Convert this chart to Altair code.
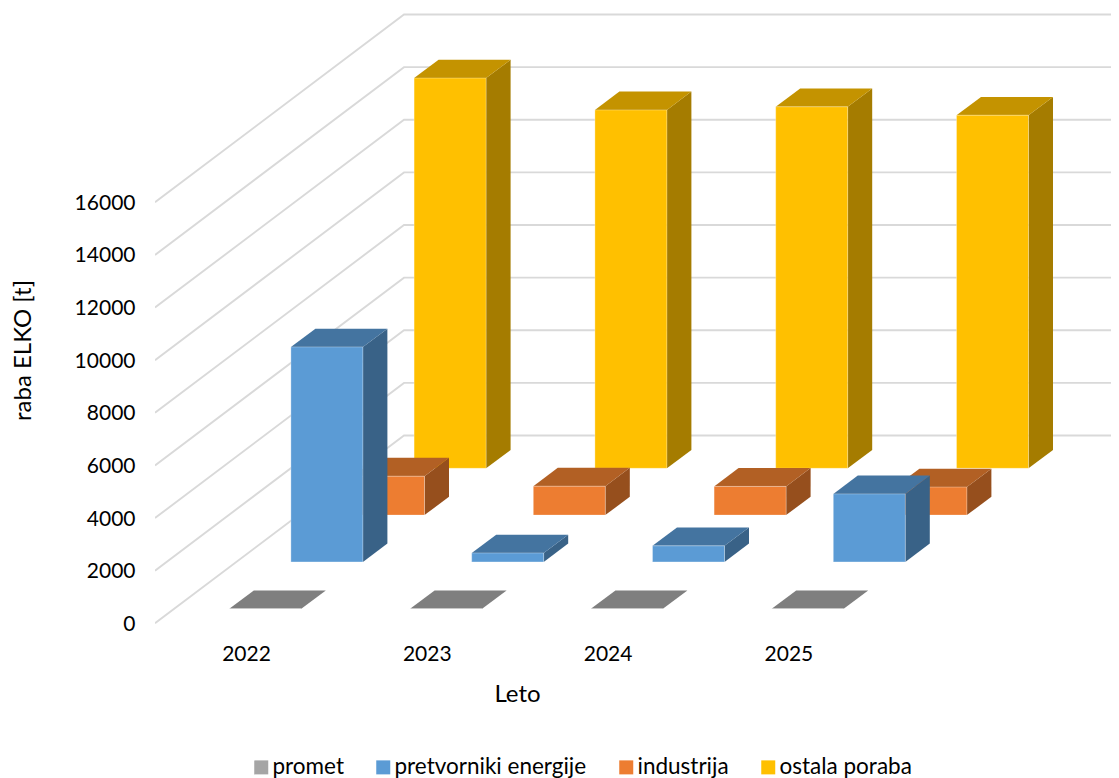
import altair as alt
import pandas as pd

years = [2022, 2023, 2024, 2025]
series_names = ["promet", "pretvorniki energije", "industrija", "ostala poraba"]
promet = [0, 0, 0, 0]
pretvorniki = [8170, 340, 610, 2585]
industrija = [1480, 1100, 1090, 1065]
ostala = [14830, 13620, 13740, 13420]
y_ticks = [0, 2000, 4000, 6000, 8000, 10000, 12000, 14000, 16000]
grid_ticks = y_ticks
front_colors = ["#A5A5A5", "#5B9BD5", "#ED7D31", "#FFC000"]
top_colors = ["#7F7F7F", "#4474A0", "#B26024", "#C49300"]
side_colors = ["#7F7F7F", "#396287", "#964F1D", "#A57C00"]
all_values = [promet, pretvorniki, industrija, ostala]

# oblique projection, expressed in scale units
YEAR_PX = 180.8
VAL_PX = 421 / 16000
BAR_W = 72 / YEAR_PX
DEPTH_X = 24.5 / YEAR_PX
DEPTH_Y = 18.3 / VAL_PX
ROW_X = 61.6 / YEAR_PX
ROW_Y = 46.8 / VAL_PX
FIRST_X = (229.3 - 247) / YEAR_PX
FIRST_Y = 14.6 / VAL_PX
WALL_X = 249 / YEAR_PX
WALL_Y = 187.8 / VAL_PX
X0 = 2022 - (247 - 155) / YEAR_PX
X1 = 2022 + (1111 - 247) / YEAR_PX
Y_BOTTOM = -(640 - 623.3) / VAL_PX
Y_TOP = (623.3 - 10) / VAL_PX


def faces(s, vals):
    front, side, top = [], [], []
    for yr, v in zip(years, vals):
        left = yr + FIRST_X + s * ROW_X
        right = left + BAR_W
        base = FIRST_Y + s * ROW_Y
        front.append(dict(series=series_names[s], x=left, x2=right, y=base, y2=base + v))
        side += [
            dict(year=yr, x=right, y=base, y2=base + v),
            dict(year=yr, x=right + DEPTH_X, y=base + DEPTH_Y, y2=base + v + DEPTH_Y),
        ]
        top += [
            dict(year=yr, y=base + v, x=left, x2=right),
            dict(year=yr, y=base + v + DEPTH_Y, x=left + DEPTH_X, x2=right + DEPTH_X),
        ]
    return pd.DataFrame(front), pd.DataFrame(side), pd.DataFrame(top)


x_scale = alt.Scale(domain=[X0, X1], nice=False, zero=False)
y_scale = alt.Scale(domain=[Y_BOTTOM, Y_TOP], nice=False, zero=False)
x_axis = alt.Axis(
    values=years, format="d", grid=False, domain=False, ticks=False,
    labelPadding=3, title="Leto", titleX=362, titleY=54, labelOffset=-1,
    titleBaseline="middle", titleFontWeight="normal", labelFlush=False,
    labelFontSize=21, titleFontSize=24,
)
y_axis = alt.Axis(
    values=y_ticks, format="d", grid=False, domain=False, ticks=False,
    labelPadding=20, title="raba ELKO [t]", titleX=-132, titleY=340, labelOffset=1,
    titleAngle=270, titleBaseline="middle", titleFontWeight="normal",
    labelFontSize=21, titleFontSize=24,
)
Xp = alt.X("x:Q", scale=x_scale, stack=None, axis=x_axis)
Yp = alt.Y("y:Q", scale=y_scale, stack=None, axis=y_axis)

grid_rows = []
for t in grid_ticks:
    grid_rows += [
        dict(tick=t, ord=0, x=X0, y=t),
        dict(tick=t, ord=1, x=X0 + WALL_X, y=t + WALL_Y),
        dict(tick=t, ord=2, x=X1, y=t + WALL_Y),
    ]
grid = alt.Chart(pd.DataFrame(grid_rows)).mark_line(
    color="#D9D9D9", strokeWidth=1.9, clip=True
).encode(x=Xp, y=Yp, detail="tick:N", order="ord:Q")

layers = [grid]
edge = dict(stroke="#FFFFFF", strokeOpacity=0.3, strokeWidth=1)
for s in [3, 2, 1, 0]:
    f, sd, tp = faces(s, all_values[s])
    layers.append(
        alt.Chart(sd).mark_area(color=side_colors[s], orient="vertical", opacity=1).encode(
            x=Xp, y=Yp, y2="y2:Q", detail="year:N"
        )
    )
    layers.append(
        alt.Chart(tp).mark_area(color=top_colors[s], orient="horizontal", opacity=1).encode(
            y=Yp, x=Xp, x2="x2:Q", detail="year:N"
        )
    )
    layers.append(
        alt.Chart(f).mark_rect(**edge).encode(
            x=Xp, x2="x2:Q", y=Yp, y2="y2:Q",
            color=alt.Color(
                "series:N",
                scale=alt.Scale(domain=series_names, range=front_colors),
                legend=alt.Legend(
                    title=None, orient="none", direction="horizontal", columns=4,
                    legendX=95, legendY=746, symbolType="square", symbolSize=196,
                    symbolStrokeWidth=0, columnPadding=28, labelOffset=0,
                    labelFontSize=22.5, labelFont="Lato", labelColor="#000000",
                    labelLimit=400,
                ),
            ),
        )
    )

chart = (
    alt.layer(*layers)
    .resolve_scale(color="shared")
    .properties(
        width=956, height=630,
        autosize=alt.AutoSizeParams(type="none"),
        padding={"left": 147, "top": 2, "right": 0, "bottom": 138},
        background="#FFFFFF",
    )
    .configure_view(stroke=None)
    .configure_axis(
        labelFont="Lato", titleFont="Lato",
        labelColor="#000000", titleColor="#000000",
    )
)
chart.save("out.html", embed_options={"renderer": "svg", "actions": False})
